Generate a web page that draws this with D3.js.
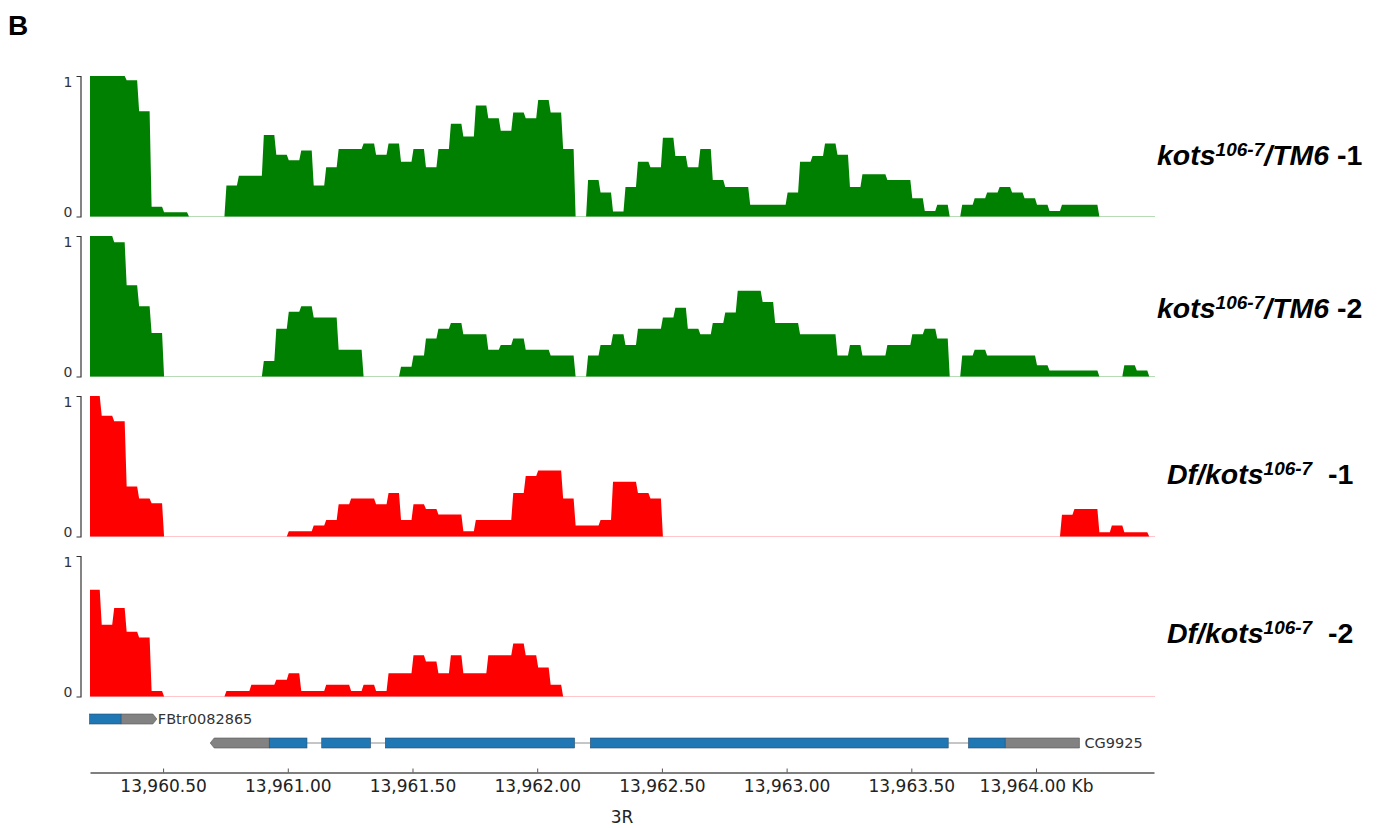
<!DOCTYPE html>
<html>
<head>
<meta charset="utf-8">
<script src="https://cdn.jsdelivr.net/npm/d3@7"></script>
<style>
  body { margin: 0; background: #fff; }
  svg text { font-family: "DejaVu Sans", sans-serif; }
  .lbl { font-family: "Liberation Sans", Arial, sans-serif !important; font-weight: bold; font-style: italic; white-space: pre; }
</style>
</head>
<body>
<svg id="chart" width="1385" height="828"></svg>
<script>
/*
 * Coverage in 50 bp bins, starting at 13,960.20 kb (values normalised to 0..1)
 */
var binStart = 13960.20;
var binSize = 0.05;

var tm6Rep1 = [1.0, 1.0, 1.0, 0.97, 0.75, 0.07, 0.03, 0.03, 0, 0,
  0, 0.22, 0.29, 0.29, 0.58, 0.44, 0.40, 0.47, 0.22, 0.35,
  0.48, 0.48, 0.52, 0.44, 0.52, 0.39, 0.48, 0.35, 0.48, 0.66,
  0.57, 0.79, 0.70, 0.61, 0.74, 0.70, 0.83, 0.74, 0.48, 0,
  0.26, 0.17, 0.035, 0.21, 0.39, 0.35, 0.56, 0.43, 0.35, 0.48,
  0.26, 0.21, 0.21, 0.083, 0.083, 0.083, 0.17, 0.39, 0.43, 0.52,
  0.44, 0.21, 0.30, 0.30, 0.26, 0.26, 0.13, 0.04, 0.083, 0,
  0.083, 0.13, 0.17, 0.21, 0.17, 0.13, 0.083, 0.04, 0.083, 0.083,
  0.083, 0, 0, 0, 0, 0];

var tm6Rep2 = [1.0, 1.0, 0.955, 0.65, 0.50, 0.31, 0, 0, 0, 0,
  0, 0, 0, 0, 0.11, 0.34, 0.46, 0.50, 0.42, 0.42,
  0.19, 0.19, 0, 0, 0, 0.07, 0.15, 0.27, 0.34, 0.38,
  0.30, 0.30, 0.19, 0.225, 0.27, 0.19, 0.19, 0.15, 0.15, 0,
  0.15, 0.225, 0.30, 0.225, 0.34, 0.34, 0.42, 0.49, 0.34, 0.30,
  0.38, 0.455, 0.61, 0.61, 0.53, 0.38, 0.38, 0.30, 0.30, 0.30,
  0.15, 0.225, 0.15, 0.15, 0.225, 0.225, 0.30, 0.34, 0.27, 0,
  0.15, 0.19, 0.15, 0.15, 0.15, 0.15, 0.08, 0.043, 0.043, 0.043,
  0.043, 0, 0, 0.08, 0.043, 0];

var dfRep1 = [1.0, 0.86, 0.82, 0.355, 0.27, 0.236, 0, 0, 0, 0,
  0, 0, 0, 0, 0, 0, 0.038, 0.038, 0.078, 0.118,
  0.23, 0.27, 0.27, 0.23, 0.31, 0.118, 0.23, 0.196, 0.156, 0.156,
  0.038, 0.118, 0.118, 0.118, 0.31, 0.43, 0.47, 0.47, 0.27, 0.078,
  0.078, 0.118, 0.39, 0.39, 0.31, 0.27, 0, 0, 0, 0,
  0, 0, 0, 0, 0, 0, 0, 0, 0, 0,
  0, 0, 0, 0, 0, 0, 0, 0, 0, 0,
  0, 0, 0, 0, 0, 0, 0, 0, 0.154, 0.196,
  0.196, 0.03, 0.078, 0.03, 0.03, 0];

var dfRep2 = [0.76, 0.51, 0.63, 0.46, 0.42, 0.04, 0, 0, 0, 0,
  0, 0.04, 0.04, 0.083, 0.083, 0.12, 0.166, 0.04, 0.04, 0.083,
  0.083, 0.04, 0.083, 0.04, 0.166, 0.166, 0.294, 0.25, 0.166, 0.294,
  0.166, 0.166, 0.294, 0.294, 0.377, 0.294, 0.206, 0.083, 0, 0,
  0, 0, 0, 0, 0, 0, 0, 0, 0, 0,
  0, 0, 0, 0, 0, 0, 0, 0, 0, 0,
  0, 0, 0, 0, 0, 0, 0, 0, 0, 0,
  0, 0, 0, 0, 0, 0, 0, 0, 0, 0,
  0, 0, 0, 0, 0, 0];

// label = [italic part, superscript, italic part, upright replicate]
var trackLabels = [
  ["kots", "106-7", "/TM6", " -1"],
  ["kots", "106-7", "/TM6", " -2"],
  ["Df/kots", "106-7", "", "  -1"],
  ["Df/kots", "106-7", "", "  -2"]
];

// gene models (kb)
var geneNames = ["FBtr0082865", "CG9925"];
var fbtrExons = [[13960.205, 13960.475]];
var fbtrCds = [13960.205, 13960.331];
var cgExons = [[13960.689, 13961.077], [13961.136, 13961.332], [13961.391, 13962.150],
  [13962.213, 13963.648], [13963.729, 13964.174]];
var cgCds = [13960.926, 13963.876];

var axisTicks = [13960.5, 13961.0, 13961.5, 13962.0, 13962.5, 13963.0, 13963.5, 13964.0];
var chromName = "3R";

/*
 * Layout
 */
var svg = d3.select("#chart");
var x = d3.scaleLinear().domain([13960.207, 13964.473]).range([90, 1154]);
var trackH = 140.5;
var trackTops = [76, 236, 396, 556];
var trackColors = ["#008000", "#008000", "#ff0000", "#ff0000"];
var baseColors = ["#b7dbb7", "#b7dbb7", "#ffc6cc", "#ffc6cc"];
var labelPos = [[1157, 165], [1157, 318], [1167, 484], [1167, 643]];
var series = [tm6Rep1, tm6Rep2, dfRep1, dfRep2];
var edge = 0.004; // slight slope on the bin edges, as in the original render

svg.append("rect").attr("width", 1385).attr("height", 828).attr("fill", "#fff");

svg.append("defs").append("clipPath").attr("id", "clip")
  .append("rect").attr("x", 90).attr("y", 0).attr("width", 1065).attr("height", 828);

svg.append("text")
  .attr("x", 8).attr("y", 35)
  .style("font-family", "'Liberation Sans', Arial, sans-serif")
  .style("font-weight", "bold")
  .style("font-size", "28px")
  .text("B");

series.forEach(function (values, t) {
  var y = d3.scaleLinear().domain([0, 1]).range([trackTops[t] + trackH, trackTops[t]]);
  var g = svg.append("g");

  // baseline
  g.append("line")
    .attr("x1", 90).attr("x2", 1155)
    .attr("y1", y(0)).attr("y2", y(0))
    .attr("stroke", baseColors[t]).attr("stroke-width", 1.2);

  var pts = [];
  values.forEach(function (v, i) {
    var s = binStart + i * binSize;
    pts.push([s + edge, v], [s + binSize - edge, v]);
  });

  var area = d3.area()
    .x(function (d) { return x(d[0]); })
    .y0(y(0))
    .y1(function (d) { return y(d[1]); });

  g.append("path")
    .datum(pts)
    .attr("clip-path", "url(#clip)")
    .attr("fill", trackColors[t])
    .attr("d", area);

  // 0-1 bracket
  var yAxis = g.append("g")
    .attr("transform", "translate(80.5,0)")
    .call(d3.axisLeft(y).tickValues([0, 1]).tickFormat(d3.format("d"))
      .tickSizeInner(0).tickSizeOuter(4).tickPadding(8));
  yAxis.select(".domain").attr("stroke", "#333").attr("stroke-width", 1.2);
  yAxis.selectAll("text")
    .attr("fill", "#333")
    .style("font-size", "14px")
    .attr("dy", function (d) { return d === 1 ? "0.78em" : "0em"; });

  // sample name
  var lab = svg.append("text")
    .attr("class", "lbl")
    .attr("x", labelPos[t][0]).attr("y", labelPos[t][1])
    .style("font-size", "28.5px");
  lab.append("tspan").text(trackLabels[t][0]);
  lab.append("tspan").attr("y", labelPos[t][1] - 9.5).style("font-size", "19px").text(trackLabels[t][1]);
  lab.append("tspan").attr("y", labelPos[t][1]).text(trackLabels[t][2]);
  lab.append("tspan").attr("y", labelPos[t][1]).style("font-style", "normal").text(trackLabels[t][3]);
});

/*
 * Gene track
 */
var exonH = 10;

function drawGene(exons, cds, cy, strand, name) {
  var g = svg.append("g");
  var first = exons[0][0], last = exons[exons.length - 1][1];
  var arrow = 4;

  // introns
  for (var i = 0; i < exons.length - 1; i++) {
    g.append("line")
      .attr("x1", x(exons[i][1])).attr("x2", x(exons[i + 1][0]))
      .attr("y1", cy).attr("y2", cy)
      .attr("stroke", "#8c8c8c").attr("stroke-width", 1);
  }

  exons.forEach(function (e) {
    var s = Math.max(e[0], cds[0]), en = Math.min(e[1], cds[1]);
    // UTR pieces (grey), tip drawn as a pointed end
    if (e[0] < cds[0]) {
      var a = x(e[0]), b = x(Math.min(e[1], cds[0]));
      var pts = (strand < 0 && e[0] === first)
        ? [[a, cy], [a + arrow, cy - exonH / 2], [b, cy - exonH / 2], [b, cy + exonH / 2], [a + arrow, cy + exonH / 2]]
        : [[a, cy - exonH / 2], [b, cy - exonH / 2], [b, cy + exonH / 2], [a, cy + exonH / 2]];
      g.append("polygon").attr("points", pts.join(" "))
        .attr("fill", "#828282").attr("stroke", "#555").attr("stroke-width", 0.6);
    }
    if (e[1] > cds[1]) {
      var c = x(Math.max(e[0], cds[1])), d = x(e[1]);
      var pts2 = (strand > 0 && e[1] === last)
        ? [[c, cy - exonH / 2], [d - arrow, cy - exonH / 2], [d, cy], [d - arrow, cy + exonH / 2], [c, cy + exonH / 2]]
        : [[c, cy - exonH / 2], [d, cy - exonH / 2], [d, cy + exonH / 2], [c, cy + exonH / 2]];
      g.append("polygon").attr("points", pts2.join(" "))
        .attr("fill", "#828282").attr("stroke", "#555").attr("stroke-width", 0.6);
    }
    if (en > s) {
      g.append("rect")
        .attr("x", x(s)).attr("y", cy - exonH / 2)
        .attr("width", x(en) - x(s)).attr("height", exonH)
        .attr("fill", "#1f77b4").attr("stroke", "#2a4f70").attr("stroke-width", 0.6);
    }
  });

  g.append("text")
    .attr("x", x(last) + (strand > 0 ? 1 : 5)).attr("y", cy)
    .attr("dy", "0.36em")
    .attr("fill", "#333")
    .style("font-size", "14.5px")
    .text(name);
}

drawGene(fbtrExons, fbtrCds, 719, 1, geneNames[0]);
drawGene(cgExons, cgCds, 743, -1, geneNames[1]);

/*
 * Genomic axis
 */
var fmt = d3.format(",.2f");
var xAxis = svg.append("g")
  .attr("transform", "translate(0,772.5)")
  .call(d3.axisBottom(x)
    .tickValues(axisTicks)
    .tickSizeInner(-4).tickSizeOuter(0).tickPadding(7)
    .tickFormat(function (d, i) { return fmt(d) + (i === axisTicks.length - 1 ? " Kb" : ""); }));
xAxis.select(".domain").attr("stroke", "#555").attr("stroke-width", 1.3);
xAxis.selectAll(".tick line").attr("stroke", "#555");
xAxis.selectAll("text").attr("fill", "#222").style("font-size", "17px");

svg.append("text")
  .attr("x", (x.range()[0] + x.range()[1]) / 2).attr("y", 828)
  .attr("dy", "-0.3em")
  .attr("text-anchor", "middle")
  .attr("fill", "#222")
  .style("font-size", "17px")
  .text(chromName);
</script>
</body>
</html>
